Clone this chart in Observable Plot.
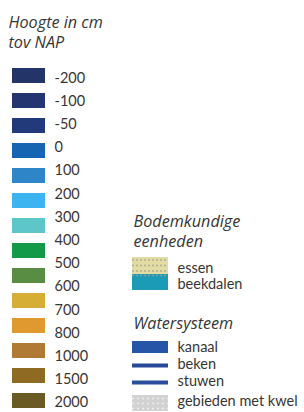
<!DOCTYPE html>
<html>
<head>
<meta charset="utf-8">
<script src="https://cdn.jsdelivr.net/npm/d3@7"></script>
<script src="https://cdn.jsdelivr.net/npm/@observablehq/plot@0.6"></script>
<style>
  html, body { margin: 0; padding: 0; background: #fff; }
  #chart { width: 304px; height: 412px; }
</style>
</head>
<body>
<div id="chart"></div>
<script>
// ---- data ----
const heightTitle = ["Hoogte in cm", "tov NAP"];
const heightLabels = ["-200", "-100", "-50", "0", "100", "200", "300", "400", "500", "600", "700", "800", "1000", "1500", "2000"];
const heightColors = ["#233468", "#243570", "#22397a", "#1565b3", "#2e86c9", "#3cb4f0", "#5cc6c8", "#139a48", "#5a8d44", "#d6ae35", "#e0992f", "#b07a35", "#8f6a22", "#6a5a23"];
const soilTitle = ["Bodemkundige", "eenheden"];
const soilUnits = ["essen", "beekdalen"];
const soilColors = ["#e3dca2", "#1b9bb6"];
const waterTitle = ["Watersysteem"];
const waterItems = ["kanaal", "beken", "stuwen", "gebieden met kwel"];
const waterColors = ["#2655a8", "#28489a", "#2b4f9e", "#d2d2d2"];

// ---- layout ----
const FONT = "Lato, 'Open Sans', sans-serif";
const TFONT = "'Open Sans', Lato, sans-serif";
const ink = "#363636";
const swatchRows = heightColors.map((c, i) => ({c, y1: 68 + 25 * i, y2: 83 + 25 * i}));
const labelRows = heightLabels.map((t, i) => ({t, y: 77.5 + 23.2 * i}));
const titleRows = heightTitle.map((t, i) => ({t, x: 8, y: 22.5 + 20 * i}));
const soilTitleRows = soilTitle.map((t, i) => ({t, x: 133, y: 221.5 + 20 * i}));
const waterTitleRows = waterTitle.map((t) => ({t, x: 133, y: 323.5}));
const soilRects = [
  {c: soilColors[0], y1: 257, y2: 274},
  {c: soilColors[1], y1: 274, y2: 290}
];
const soilLabelRows = soilUnits.map((t, i) => ({t, y: 268 + 16 * i}));
const waterGeom = [[341, 353], [363.5, 367.5], [380.5, 384.5], [395, 411]];
const waterRects = waterItems.map((t, i) => ({c: waterColors[i], y1: waterGeom[i][0], y2: waterGeom[i][1]}));
const waterLabelRows = waterItems.map((t, i) => ({t, y: [346.5, 363.5, 381, 400.5][i]}));
// speckle lines in the textured swatches
const essenDots = [259.5, 265, 270.5].map(y => ({y}));
const kwelDots = [398, 403, 408].map(y => ({y}));

const titleStyle = {x: "x", y: "y", text: "t", textAnchor: "start", fill: ink, fontSize: 16.2, fontStyle: "italic", fontFamily: TFONT};

const chart = Plot.plot({
  width: 304,
  height: 412,
  margin: 0,
  x: {type: "linear", domain: [0, 304], range: [0, 304], axis: null},
  y: {type: "linear", domain: [0, 412], range: [0, 412], axis: null},
  style: {background: "#ffffff"},
  marks: [
    Plot.rect(swatchRows, {x1: 12, x2: 45, y1: "y1", y2: "y2", fill: "c"}),
    Plot.text(labelRows, {x: 54, y: "y", text: "t", textAnchor: "start", fill: ink, fontSize: 14.5, fontFamily: FONT}),
    Plot.text(titleRows, titleStyle),
    Plot.text(soilTitleRows, titleStyle),
    Plot.text(waterTitleRows, titleStyle),
    Plot.rect(soilRects, {x1: 132, x2: 168, y1: "y1", y2: "y2", fill: "c"}),
    Plot.ruleY(essenDots, {y: "y", x1: 132, x2: 168, stroke: "#9a9a90", strokeWidth: 1.5, strokeDasharray: "2,2", strokeOpacity: 0.7}),
    Plot.ruleY([275], {x1: 132, x2: 168, stroke: "#8a9aa0", strokeWidth: 1.5, strokeDasharray: "2,2"}),
    Plot.rect(waterRects, {x1: 132, x2: 168, y1: "y1", y2: "y2", fill: "c"}),
    Plot.ruleY(kwelDots, {y: "y", x1: 132, x2: 168, stroke: "#ededed", strokeWidth: 1.5, strokeDasharray: "2,3"}),
    Plot.text(soilLabelRows, {x: 177, y: "y", text: "t", textAnchor: "start", fill: ink, fontSize: 14.5, fontFamily: FONT}),
    Plot.text(waterLabelRows, {x: 177, y: "y", text: "t", textAnchor: "start", fill: ink, fontSize: 14.5, fontFamily: FONT})
  ]
});
document.getElementById("chart").appendChild(chart);
</script>
</body>
</html>
